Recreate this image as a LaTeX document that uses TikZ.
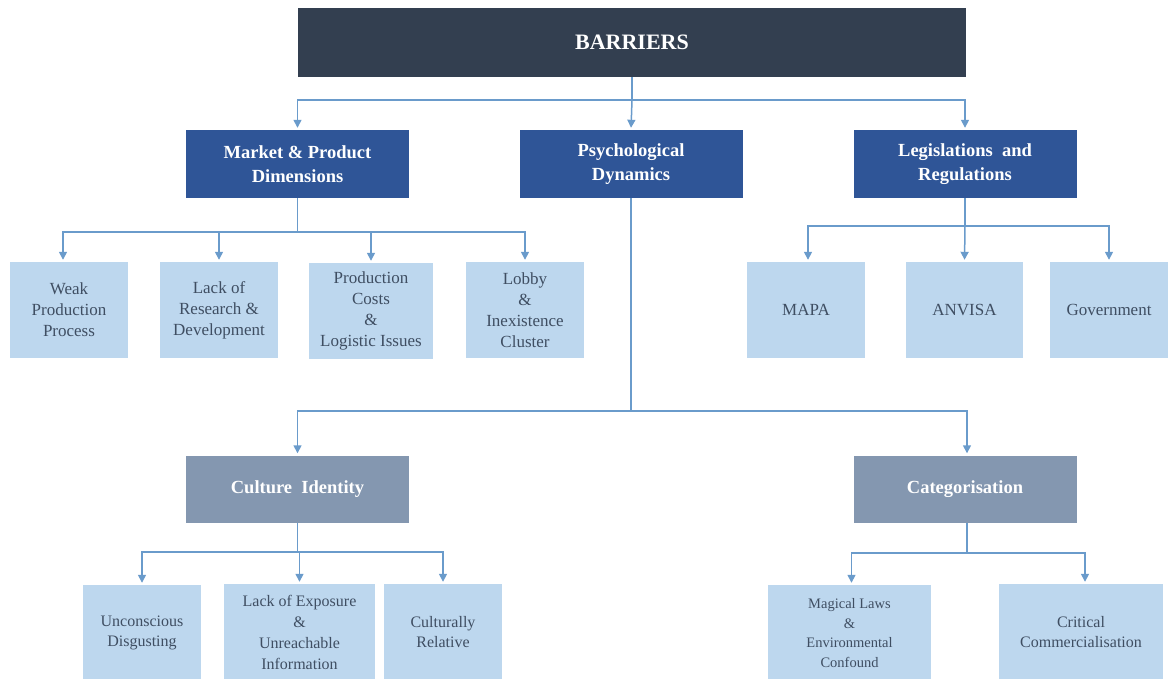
\documentclass[tikz,border=0pt]{standalone}
\usepackage{fontspec}
\setmainfont{Liberation Serif}
\usetikzlibrary{arrows.meta}
\definecolor{navy}{HTML}{333F50}
\definecolor{catblue}{HTML}{2F5597}
\definecolor{greyblue}{HTML}{8497B0}
\definecolor{leafblue}{HTML}{BDD7EE}
\definecolor{linecol}{HTML}{6A9BCB}
\definecolor{leaftext}{HTML}{3F4E62}
\begin{document}
\begin{tikzpicture}[x=1pt,y=-1pt,
  topbox/.style={fill=navy,text=white,minimum width=668pt,minimum height=69pt,inner sep=0pt,
    font=\fontsize{22}{26}\selectfont\bfseries},
  catbox/.style={fill=catblue,text=white,minimum width=223pt,minimum height=68pt,inner sep=0pt,align=center,
    font=\fontsize{18.5}{24}\selectfont\bfseries},
  subbox/.style={fill=greyblue,text=white,minimum width=223pt,minimum height=67pt,inner sep=0pt,align=center,
    font=\fontsize{18.5}{24}\selectfont\bfseries},
  leaf/.style={fill=leafblue,text=leaftext,minimum width=118pt,minimum height=96pt,inner sep=0pt,align=center,
    font=\fontsize{17}{21}\selectfont},
  conn/.style={draw=linecol,line width=1.5pt},
  arr/.style={conn,-{Triangle[width=8pt,length=8pt]},shorten >=2pt}
]
\useasboundingbox (0,0) rectangle (1168,679);
\begin{scope}
\clip (0,0) rectangle (1168,679);
% top
\node[topbox] (bar) at (632,42.5) {BARRIERS};
% categories
\node[catbox] (mkt) at (297.5,164) {Market \& Product\\Dimensions};
\node[catbox] (psy) at (631,164) {Psychological\\Dynamics};
\node[catbox] (leg) at (965,164) {Legislations\enspace and\\Regulations};
% market leaves
\node[leaf] (weak) at (69,310) {Weak\\Production\\Process};
\node[leaf] (rd) at (219,310) {Lack of\\Research \&\\Development};
\node[leaf,minimum width=124pt] (cost) at (371,311) {Production\\Costs\\\&\\Logistic Issues};
\node[leaf] (lobby) at (525,310) {Lobby\\\&\\Inexistence\\Cluster};
% legislation leaves
\node[leaf] (mapa) at (806,310) {MAPA};
\node[leaf,minimum width=117pt] (anv) at (964.5,310) {ANVISA};
\node[leaf] (gov) at (1109,310) {Government};
% psychological subs
\node[subbox] (cult) at (297.5,489) {Culture\enspace Identity};
\node[subbox] (cat) at (965,489) {Categorisation};
% culture leaves
\node[leaf,font=\fontsize{16}{20}\selectfont] (unc) at (142,633) {Unconscious\\Disgusting};
\node[leaf,minimum width=151pt,font=\fontsize{16}{21}\selectfont] (exp) at (299.5,632) {Lack of Exposure\\\&\\Unreachable\\Information};
\node[leaf,font=\fontsize{16}{20}\selectfont] (rel) at (443,632) {Culturally\\Relative};
% categorisation leaves
\node[leaf,minimum width=163pt,font=\fontsize{14.5}{19.5}\selectfont] (mag) at (849.5,633) {Magical Laws\\\&\\Environmental\\Confound};
\node[leaf,minimum width=164pt,font=\fontsize{16}{20}\selectfont] (crit) at (1081,632) {Critical\\Commercialisation};
% junctions
\coordinate (j0) at (632,100);
\coordinate (j1) at (297.5,232);
\coordinate (j2) at (965,226);
\coordinate (j3) at (631,411);
\coordinate (j4) at (297.5,552);
\coordinate (j5) at (967,553);
% connectors
\draw[conn] (bar.south) -- (j0);
\draw[arr] (j0) -| (mkt.north);
\draw[arr] (j0) -- (psy.north);
\draw[arr] (j0) -| (leg.north);
\draw[conn] (mkt.south) -- (j1);
\draw[arr] (j1) -| ([xshift=-6pt]weak.north);
\draw[arr] (j1) -| (rd.north);
\draw[arr] (j1) -| (cost.north);
\draw[arr] (j1) -| (lobby.north);
\draw[conn] (leg.south) -- (j2);
\draw[arr] (j2) -| ([xshift=2pt]mapa.north);
\draw[arr] (j2) -- (anv.north);
\draw[arr] (j2) -| (gov.north);
\draw[conn] (psy.south) -- (j3);
\draw[arr] (j3) -| (cult.north);
\draw[arr] (j3) -| ([xshift=2pt]cat.north);
\draw[conn] (cult.south) -- (j4);
\draw[arr] (j4) -| (unc.north);
\draw[arr] (j4) -| (exp.north);
\draw[arr] (j4) -| (rel.north);
\draw[conn] ([xshift=2pt]cat.south) -- (j5);
\draw[arr] (j5) -| ([xshift=2pt]mag.north);
\draw[arr] (j5) -| ([xshift=4pt]crit.north);
\end{scope}
\end{tikzpicture}
\end{document}
